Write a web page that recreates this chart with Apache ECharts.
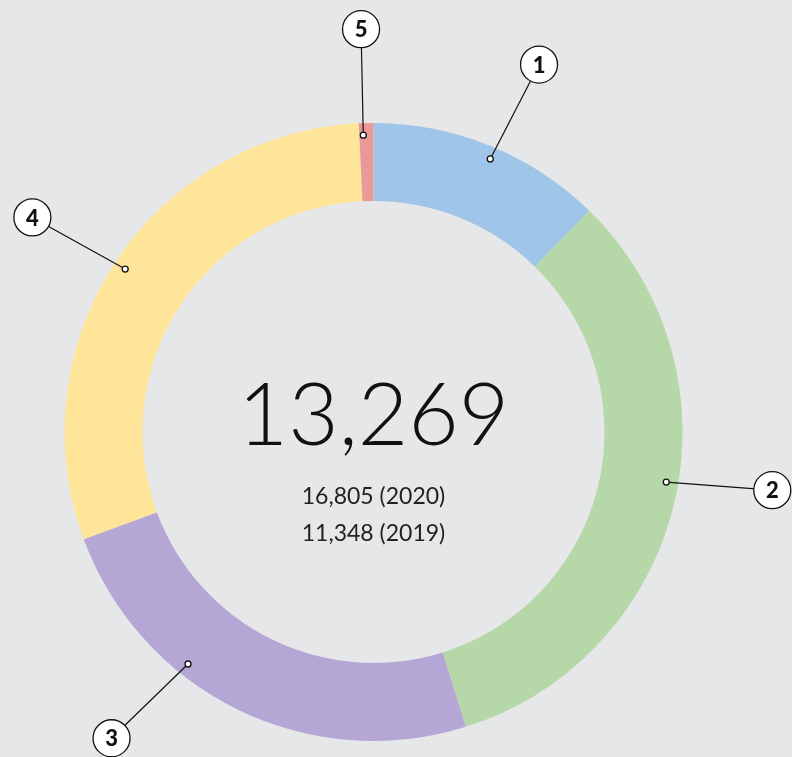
<!DOCTYPE html>
<html>
<head>
<meta charset="utf-8">
<script src="https://cdn.jsdelivr.net/npm/echarts@6/dist/echarts.min.js"></script>
<style>
  html, body { margin: 0; padding: 0; background: #e6e7e9; }
  #chart { width: 792px; height: 757px; }
</style>
</head>
<body>
<div id="chart"></div>
<script>
// slices, clockwise from 12 o'clock
const categories = ["1", "2", "3", "4", "5"];
const values = [1633, 4360, 3210, 3965, 101];
const colors = ["#9fc5e8", "#b6d7a8", "#b4a7d6", "#ffe599", "#ea9999"];
const compareLines = ["16,805 (2020)", "11,348 (2019)"];

// callout nudges in degrees (dot / badge) relative to the slice middle
const dotNudge = [1.0, -3.75, 12.5, -0.2, -0.6];
const labelNudge = [2.1, -5.15, 14.4, -1.3, -0.4];

const CX = 373.5, CY = 432, R_IN = 231, R_OUT = 309;
const DOT_R = 297, LABEL_R = 403;

function fmtInt(n){
  return (Number(n) || 0).toLocaleString("en-US");
}

const total = values.reduce((a, b) => a + b, 0);
let acc = 0;
const mids = values.map(v => { const m = acc + v / 2; acc += v; return m; });
const degToVal = d => d / 360 * total;

const calloutData = categories.map((c, i) => [
  DOT_R, mids[i] + degToVal(dotNudge[i]),
  LABEL_R, mids[i] + degToVal(labelNudge[i])
]);

const chart = echarts.init(document.getElementById("chart"));

const option = {
  backgroundColor: "#e6e7e9",
  animation: false,
  polar: { center: [CX, CY], radius: R_OUT },
  angleAxis: { type: "value", min: 0, max: total, startAngle: 90, clockwise: true, show: false },
  radiusAxis: { type: "value", min: 0, max: R_OUT, show: false },
  graphic: [
    {
      type: "text", x: CX, y: 417, silent: true,
      style: { text: fmtInt(total), fill: "#111", fontFamily: "Lato", fontWeight: 300, fontSize: 87, align: "center", verticalAlign: "middle" }
    },
    {
      type: "text", x: CX, y: 497, silent: true,
      style: { text: compareLines[0], fill: "#222", fontFamily: "Lato", fontWeight: 400, fontSize: 23, align: "center", verticalAlign: "middle" }
    },
    {
      type: "text", x: CX, y: 534, silent: true,
      style: { text: compareLines[1], fill: "#222", fontFamily: "Lato", fontWeight: 400, fontSize: 23, align: "center", verticalAlign: "middle" }
    }
  ],
  series: [
    {
      type: "pie",
      center: [CX, CY],
      radius: [R_IN, R_OUT],
      startAngle: 90,
      clockwise: true,
      silent: true,
      label: { show: false },
      labelLine: { show: false },
      itemStyle: { borderWidth: 0 },
      data: categories.map((c, i) => ({ name: c, value: values[i], itemStyle: { color: colors[i] } }))
    },
    {
      type: "custom",
      coordinateSystem: "polar",
      silent: true,
      z: 10,
      data: calloutData,
      renderItem: (params, api) => {
        const p1 = api.coord([api.value(0), api.value(1)]);
        const p2 = api.coord([api.value(2), api.value(3)]);
        return {
          type: "group",
          children: [
            { type: "line", shape: { x1: p1[0], y1: p1[1], x2: p2[0], y2: p2[1] }, style: { stroke: "#111", lineWidth: 1.2 } },
            { type: "circle", shape: { cx: p1[0], cy: p1[1], r: 3 }, style: { fill: "#fff", stroke: "#111", lineWidth: 1.3 } },
            { type: "circle", shape: { cx: p2[0], cy: p2[1], r: 18.5 }, style: { fill: "#fff", stroke: "#111", lineWidth: 1.3 } },
            {
              type: "text", x: p2[0], y: p2[1] + 1,
              style: { text: categories[params.dataIndex], fill: "#111", fontFamily: "Lato", fontWeight: 900, fontSize: 22, align: "center", verticalAlign: "middle" }
            }
          ]
        };
      }
    }
  ]
};

chart.setOption(option);
window.addEventListener("resize", () => chart.resize());
</script>
</body>
</html>
